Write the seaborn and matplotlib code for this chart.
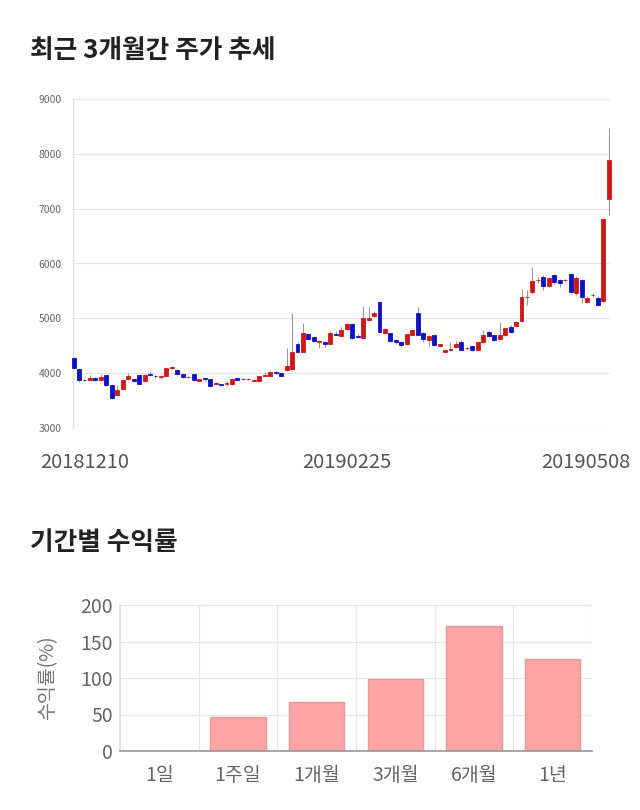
import numpy as np
import pandas as pd
import matplotlib
matplotlib.use("Agg")
import matplotlib.pyplot as plt
import seaborn as sns

# ---------------- data ----------------
date_labels = ["20181210", "20190225", "20190508"]

opens = [4270, 4070, 3880, 3880, 3910, 3870, 3960, 3780, 3600, 3720,
         3900, 3890, 3960, 3850, 3990, 3950, 3930, 3940, 4100, 4060,
         3980, 3930, 3980, 3865, 3910, 3885, 3795, 3800, 3800, 3810,
         3915, 3885, 3885, 3860, 3855, 3945, 3955, 4020, 4000, 4060,
         4085, 4540, 4390, 4710, 4663, 4560, 4560, 4540, 4720, 4675,
         4800, 4895, 4680, 4650, 4970, 5050, 5300, 4740, 4725, 4600,
         4570, 4540, 4690, 5090, 4735, 4600, 4690, 4500, 4395, 4420,
         4480, 4560, 4450, 4500, 4430, 4560, 4755, 4690, 4630, 4690,
         4845, 4855, 4950, 5390, 5472, 5700, 5760, 5590, 5790, 5700,
         5690, 5800, 5455, 5690, 5290, 5420, 5375, 5315, 7175]

highs = [4290, 4100, 3900, 3960, 3930, 3990, 3970, 3800, 3780, 3880,
         4010, 3900, 3970, 3990, 4040, 3960, 3960, 4100, 4130, 4070,
         3990, 3950, 3990, 3900, 3920, 3890, 3840, 3810, 3850, 3890,
         3920, 3910, 3910, 3890, 3950, 4030, 4040, 4040, 4010, 4455,
         5095, 4560, 4910, 4720, 4680, 4610, 4580, 4760, 4760, 4850,
         4920, 4910, 4720, 5220, 5210, 5140, 5320, 4830, 4740, 4620,
         4590, 4720, 4800, 5200, 4750, 4700, 4700, 4540, 4440, 4560,
         4580, 4600, 4470, 4520, 4580, 4790, 4780, 4710, 4935, 4830,
         4870, 4960, 5530, 5520, 5930, 5760, 5790, 5760, 5810, 5720,
         5720, 5830, 5780, 5720, 5400, 5470, 5400, 6805, 8470]

lows = [4090, 3830, 3860, 3870, 3860, 3860, 3760, 3520, 3590, 3700,
        3890, 3840, 3800, 3840, 3950, 3920, 3900, 3930, 4070, 3970,
        3910, 3920, 3860, 3850, 3850, 3770, 3790, 3770, 3770, 3790,
        3870, 3870, 3870, 3850, 3830, 3940, 3950, 3990, 3940, 4040,
        4070, 4380, 4380, 4610, 4560, 4450, 4470, 4530, 4690, 4660,
        4790, 4620, 4650, 4640, 4960, 5030, 4740, 4720, 4560, 4530,
        4480, 4520, 4680, 4690, 4570, 4500, 4500, 4480, 4390, 4400,
        4460, 4420, 4420, 4410, 4420, 4550, 4660, 4580, 4620, 4680,
        4740, 4840, 4940, 5250, 5450, 5650, 5520, 5570, 5630, 5580,
        5660, 5470, 5420, 5280, 5280, 5380, 5220, 5300, 6880]

closes = [4100, 3880, 3870, 3910, 3880, 3930, 3780, 3540, 3690, 3870,
          3950, 3860, 3810, 3970, 3960, 3940, 3950, 4090, 4110, 3990,
          3930, 3930, 3870, 3890, 3885, 3775, 3820, 3790, 3825, 3885,
          3880, 3885, 3885, 3875, 3945, 3975, 4020, 4000, 3950, 4130,
          4390, 4390, 4725, 4630, 4583, 4590, 4540, 4735, 4700, 4785,
          4895, 4650, 4665, 5000, 5010, 5100, 4755, 4800, 4590, 4560,
          4510, 4710, 4785, 4705, 4620, 4675, 4520, 4525, 4420, 4440,
          4530, 4430, 4450, 4430, 4570, 4690, 4675, 4600, 4690, 4815,
          4755, 4935, 5380, 5390, 5680, 5700, 5590, 5730, 5670, 5640,
          5700, 5485, 5730, 5395, 5365, 5420, 5235, 6805, 7887]

price_ticks = [3000, 4000, 5000, 6000, 7000, 8000, 9000]

periods = ["1일", "1주일", "1개월", "3개월", "6개월", "1년"]
returns = [0.0, 46.2, 67.5, 99.0, 171.0, 126.0]
return_ticks = [0, 50, 100, 150, 200]

# ---------------- style ----------------
sns.set_theme(style="white")
plt.rcParams['font.family'] = ['Noto Sans CJK KR', 'DejaVu Sans']

W, H = 640, 810
fig = plt.figure(figsize=(W / 100, H / 100), dpi=100)
fig.patch.set_facecolor("white")

# ---------------- candlestick chart ----------------
ax1 = fig.add_axes([73 / W, 1 - 428 / H, 537 / W, 329 / H])
df = pd.DataFrame(dict(open=opens, high=highs, low=lows, close=closes))
df["idx"] = np.arange(len(df))
up = df["close"] >= df["open"]
body_colors = np.where(up, "#d01717", "#0f12c4")

ax1.vlines(df["idx"], df["low"], df["high"], color="#9a9a9a", lw=0.8, zorder=2)
ax1.bar(df["idx"], (df["close"] - df["open"]).abs(),
        bottom=df[["open", "close"]].min(axis=1), width=0.72,
        color=body_colors, edgecolor=body_colors, linewidth=0.6, zorder=3,
        clip_on=False)

ax1.set_xlim(-0.1, 98.2)
ax1.set_ylim(3000, 9000)
ax1.set_yticks(price_ticks)
ax1.set_yticklabels([str(t) for t in price_ticks])
ax1.set_xticks([])
ax1.yaxis.grid(True, color="#e6e6e6", lw=0.8)
ax1.set_axisbelow(True)
for s in ["top", "right", "bottom"]:
    ax1.spines[s].set_visible(False)
ax1.spines["left"].set_color("#e2e2e2")
ax1.spines["left"].set_linewidth(1.0)
ax1.tick_params(axis="y", labelsize=7.5, colors="#666666", length=0, pad=8)

fig.text(40 / W, 1 - 462 / H, date_labels[0], ha="left", va="center",
         fontsize=14.5, color="#555555")
fig.text(347 / W, 1 - 462 / H, date_labels[1], ha="center", va="center",
         fontsize=14.5, color="#555555")
fig.text(630 / W, 1 - 462 / H, date_labels[2], ha="right", va="center",
         fontsize=14.5, color="#555555")

fig.text(30 / W, 1 - 50 / H, "최근 3개월간 주가 추세", ha="left", va="center",
         fontsize=18.5, fontweight="bold", color="#222222")
fig.text(30 / W, 1 - 543 / H, "기간별 수익률", ha="left", va="center",
         fontsize=18.5, fontweight="bold", color="#222222")

# ---------------- returns bar chart ----------------
ax2 = fig.add_axes([120 / W, 1 - 751 / H, 472 / W, 146 / H])
sns.barplot(x=periods, y=returns, color="#ffa5a5", saturation=1, width=0.7,
            edgecolor="#e79a9a", linewidth=1.0, ax=ax2, zorder=3)
ax2.set_xlim(-0.5, 5.5)
ax2.set_ylim(0, 200)
ax2.set_yticks(return_ticks)
ax2.set_xticks(np.arange(-0.5, 6.0, 1.0), minor=True)
ax2.yaxis.grid(True, color="#e6e6e6", lw=0.8)
ax2.xaxis.grid(True, which="minor", color="#e6e6e6", lw=0.8)
ax2.set_axisbelow(True)
for s in ["top", "right"]:
    ax2.spines[s].set_visible(False)
ax2.spines["left"].set_color("#e0e0e0")
ax2.spines["bottom"].set_color("#9a9a9a")
ax2.spines["bottom"].set_zorder(5)
ax2.tick_params(axis="x", which="major", length=0, labelsize=14,
                colors="#666666", pad=10)
ax2.tick_params(axis="x", which="minor", length=11, color="#e0e0e0", width=0.8)
ax2.tick_params(axis="y", length=0, labelsize=14, colors="#666666", pad=5)
ax2.set_xlabel("")
ax2.set_ylabel("수익률(%)", fontsize=14, color="#777777", labelpad=16)

fig.savefig("out.png", dpi=100, facecolor="white")
